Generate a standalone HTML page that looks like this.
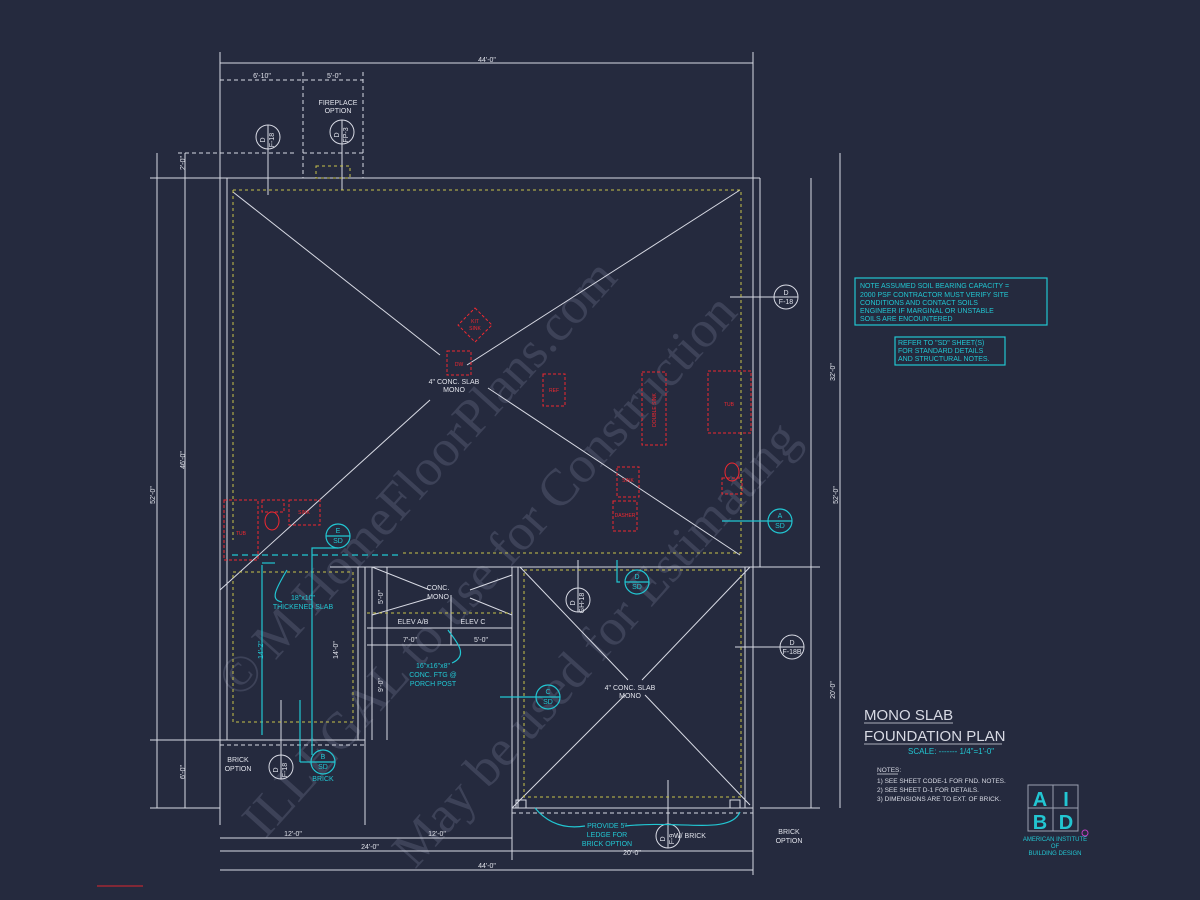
<!DOCTYPE html>
<html><head><meta charset="utf-8"><style>
html,body{margin:0;padding:0;background:#252a3e;}
svg{display:block}
text{font-family:"Liberation Sans",sans-serif;}
text.wm{font-family:"Liberation Serif",serif;}
</style></head><body>
<svg width="1200" height="900" viewBox="0 0 1200 900" xmlns="http://www.w3.org/2000/svg">
<rect width="1200" height="900" fill="#252a3e"/>
<!-- watermark -->
<g fill="#6a7088" opacity="0.35" font-size="52">
<text class="wm" transform="translate(240,700) rotate(-48)">© M HomeFloorPlans.com</text>
<text class="wm" transform="translate(265,840) rotate(-48)">ILLEGAL to use for Construction</text>
<text class="wm" transform="translate(415,870) rotate(-48)">May be used for Estimating</text>
</g>
<g stroke="#d8dae4" stroke-width="1" fill="none">
<line x1="220" y1="63" x2="753" y2="63"/>
<line x1="220" y1="52" x2="220" y2="825"/>
<line x1="753" y1="52" x2="753" y2="808"/>
<line x1="150" y1="178" x2="760" y2="178"/>
<line x1="365" y1="567" x2="820" y2="567"/>
<line x1="220" y1="740" x2="365" y2="740"/>
<line x1="365" y1="567" x2="365" y2="825"/>
<line x1="372" y1="567" x2="372" y2="740"/>
<line x1="512" y1="567" x2="512" y2="860"/>
<line x1="518" y1="567" x2="518" y2="808"/>
<line x1="745" y1="567" x2="745" y2="808"/>
<line x1="512" y1="808" x2="753" y2="808"/>
<line x1="760" y1="808" x2="820" y2="808"/>
<line x1="760" y1="178" x2="760" y2="567"/>
<line x1="227" y1="178" x2="227" y2="740"/>
<line x1="358" y1="567" x2="358" y2="740"/>
<line x1="330" y1="567" x2="365" y2="567"/>
<line x1="233" y1="192" x2="440" y2="355"/>
<line x1="488" y1="388" x2="740" y2="555"/>
<line x1="740" y1="190" x2="467" y2="365"/>
<line x1="430" y1="400" x2="220" y2="590"/>
<line x1="520" y1="567" x2="628" y2="680"/>
<line x1="645" y1="695" x2="750" y2="805"/>
<line x1="750" y1="567" x2="642" y2="680"/>
<line x1="625" y1="695" x2="512" y2="808"/>
<line x1="372" y1="567" x2="430" y2="590"/>
<line x1="470" y1="590" x2="512" y2="575"/>
<line x1="372" y1="615" x2="430" y2="598"/>
<line x1="470" y1="598" x2="512" y2="615"/>
<line x1="367" y1="628" x2="512" y2="628"/>
<line x1="367" y1="645" x2="512" y2="645"/>
<line x1="387" y1="567" x2="387" y2="740"/>
<line x1="451" y1="595" x2="451" y2="645"/>
<line x1="157" y1="153" x2="157" y2="808"/>
<line x1="185" y1="153" x2="185" y2="808"/>
<line x1="150" y1="808" x2="220" y2="808"/>
<line x1="150" y1="740" x2="220" y2="740"/>
<line x1="811" y1="178" x2="811" y2="808"/>
<line x1="840" y1="153" x2="840" y2="808"/>
<line x1="220" y1="838" x2="512" y2="838"/>
<line x1="220" y1="851" x2="753" y2="851"/>
<line x1="220" y1="870" x2="753" y2="870"/>
<line x1="753" y1="808" x2="753" y2="875"/>
<line x1="220" y1="80" x2="363" y2="80" stroke-dasharray="4 3"/>
<line x1="303" y1="72" x2="303" y2="178" stroke-dasharray="4 3"/>
<line x1="363" y1="72" x2="363" y2="178" stroke-dasharray="4 3"/>
<line x1="178" y1="153" x2="297" y2="153" stroke-dasharray="4 3"/>
<line x1="303" y1="153" x2="363" y2="153" stroke-dasharray="4 3"/>
<line x1="220" y1="745" x2="365" y2="745" stroke-dasharray="4 3"/>
<line x1="512" y1="813" x2="753" y2="813" stroke-dasharray="4 3"/>
<circle cx="268" cy="137" r="12"/><line x1="268" y1="125" x2="268" y2="195"/>
<circle cx="342" cy="132" r="12"/><line x1="342" y1="120" x2="342" y2="190"/>
<circle cx="786" cy="297" r="12"/><line x1="730" y1="297" x2="798" y2="297"/>
<circle cx="792" cy="647" r="12"/><line x1="735" y1="647" x2="804" y2="647"/>
<circle cx="578" cy="600" r="12"/><line x1="578" y1="560" x2="578" y2="612"/>
<circle cx="668" cy="836" r="12"/><line x1="668" y1="780" x2="668" y2="848"/>
<circle cx="281" cy="767" r="12"/><line x1="281" y1="700" x2="281" y2="779"/>
<rect x="516" y="800" width="10" height="8"/><rect x="730" y="800" width="10" height="8"/>
</g>
<g fill="#e0e2ea" font-size="7" text-anchor="middle">
<text x="786" y="295">D</text><text x="786" y="304">F-18</text>
<text x="792" y="645">D</text><text x="792" y="654">F-18B</text>
<text transform="translate(265,140) rotate(-90)">D</text><text transform="translate(274,140) rotate(-90)">F-18</text>
<text transform="translate(339,135) rotate(-90)">D</text><text transform="translate(348,135) rotate(-90)">FP-3</text>
<text transform="translate(575,603) rotate(-90)">D</text><text transform="translate(584,603) rotate(-90)">GH-18</text>
<text transform="translate(665,839) rotate(-90)">D</text><text transform="translate(674,839) rotate(-90)">F-9</text>
<text transform="translate(278,770) rotate(-90)">D</text><text transform="translate(287,770) rotate(-90)">F-18</text>
<text x="487" y="62">44'-0"</text><text x="487" y="868">44'-0"</text>
<text x="262" y="78">6'-10"</text><text x="334" y="78">5'-0"</text>
<text x="293" y="836">12'-0"</text><text x="437" y="836">12'-0"</text>
<text x="370" y="849">24'-0"</text><text x="632" y="855">20'-0"</text>
<text x="454" y="384">4" CONC. SLAB</text><text x="454" y="392">MONO</text>
<text x="630" y="690">4" CONC. SLAB</text><text x="630" y="698">MONO</text>
<text x="438" y="590">CONC.</text><text x="438" y="599">MONO</text>
<text x="413" y="624">ELEV A/B</text><text x="473" y="624">ELEV C</text>
<text x="410" y="642">7'-0"</text><text x="481" y="642">5'-0"</text>
<text x="690" y="838">W/ BRICK</text>
<text x="789" y="834">BRICK</text><text x="789" y="843">OPTION</text>
<text x="238" y="762">BRICK</text><text x="238" y="771">OPTION</text>
<text x="338" y="105">FIREPLACE</text><text x="338" y="113">OPTION</text>
<text transform="translate(185,163) rotate(-90)">2'-0"</text>
<text transform="translate(185,460) rotate(-90)">46'-0"</text>
<text transform="translate(155,495) rotate(-90)">52'-0"</text>
<text transform="translate(185,772) rotate(-90)">6'-0"</text>
<text transform="translate(835,372) rotate(-90)">32'-0"</text>
<text transform="translate(838,495) rotate(-90)">52'-0"</text>
<text transform="translate(835,690) rotate(-90)">20'-0"</text>
<text transform="translate(383,597) rotate(-90)">5'-0"</text>
<text transform="translate(383,685) rotate(-90)">9'-0"</text>
<text transform="translate(338,650) rotate(-90)">14'-0"</text>
</g>
<g stroke="#c8c24a" stroke-width="1" fill="none" stroke-dasharray="3 3">
<path d="M233 190 H741 V553 H400"/>
<line x1="233" y1="190" x2="233" y2="540"/>
<rect x="233" y="572" width="120" height="150"/>
<rect x="524" y="570" width="217" height="227"/>
<rect x="316" y="166" width="34" height="12"/>
<line x1="367" y1="613" x2="512" y2="613"/>
</g>
<g stroke="#f02830" stroke-width="1" fill="none" stroke-dasharray="3 2">
<rect x="463" y="313" width="24" height="24" transform="rotate(45 475 325)"/>
<rect x="447" y="351" width="24" height="24"/>
<rect x="543" y="374" width="22" height="32"/>
<rect x="642" y="372" width="24" height="73"/>
<rect x="708" y="371" width="43" height="62"/>
<rect x="617" y="467" width="22" height="30"/>
<rect x="613" y="501" width="24" height="30"/>
<rect x="224" y="500" width="34" height="60"/>
<rect x="262" y="500" width="22" height="12"/>
<rect x="289" y="500" width="31" height="25"/>
<rect x="722" y="478" width="20" height="16"/>
</g>
<g stroke="#f02830" fill="none"><ellipse cx="732" cy="472" rx="7" ry="9"/><ellipse cx="272" cy="521" rx="7" ry="9"/></g>
<g fill="#f02830" font-size="5" text-anchor="middle">
<text x="475" y="323">KIT</text><text x="475" y="330">SINK</text><text x="459" y="366">DW</text>
<text x="554" y="392">REF</text><text x="729" y="406">TUB</text><text x="628" y="482">SINK</text>
<text x="625" y="517">DASHER</text><text x="241" y="535">TUB</text><text x="304" y="514">SINK</text>
<text transform="translate(656,410) rotate(-90)">DOUBLE SINK</text>
</g>
<g stroke="#22c6d2" stroke-width="1.2" fill="none">
<line x1="232" y1="555" x2="400" y2="555" stroke-dasharray="6 4"/>
<line x1="262" y1="565" x2="262" y2="735"/>
<line x1="262" y1="563" x2="275" y2="563"/>
<circle cx="338" cy="536" r="12"/><line x1="326" y1="536" x2="350" y2="536"/><path d="M338 548 H312 V755"/>
<circle cx="323" cy="762" r="12"/><line x1="311" y1="762" x2="335" y2="762"/><line x1="311" y1="762" x2="300" y2="762"/><line x1="300" y1="700" x2="300" y2="762"/>
<circle cx="780" cy="521" r="12"/><line x1="768" y1="521" x2="792" y2="521"/><line x1="722" y1="521" x2="768" y2="521"/>
<circle cx="548" cy="697" r="12"/><line x1="536" y1="697" x2="560" y2="697"/><line x1="500" y1="697" x2="536" y2="697"/>
<circle cx="637" cy="582" r="12"/><line x1="625" y1="582" x2="649" y2="582"/><path d="M620 582 H617 V560"/>
<path d="M282 602 C 270 600 275 590 287 570"/>
<path d="M452 663 C 470 655 455 640 448 630"/>
<path d="M585 826 C 560 830 545 820 535 808"/><path d="M625 826 C 680 820 730 835 740 812"/>
<rect x="855" y="278" width="192" height="47"/>
<rect x="895" y="337" width="110" height="28"/>
</g>
<g fill="#22c6d2" font-size="7" text-anchor="middle">
<text x="338" y="533">E</text><text x="338" y="543">SD</text>
<text x="323" y="759">B</text><text x="323" y="769">SD</text>
<text x="780" y="518">A</text><text x="780" y="528">SD</text>
<text x="548" y="694">C</text><text x="548" y="704">SD</text>
<text x="637" y="579">D</text><text x="637" y="589">SD</text>
<text x="303" y="600">18"x10"</text><text x="303" y="609">THICKENED SLAB</text>
<text x="323" y="781">BRICK</text>
<text x="433" y="668">16"x16"x8"</text><text x="433" y="677">CONC. FTG @</text><text x="433" y="686">PORCH POST</text>
<text x="607" y="828">PROVIDE 5"</text><text x="607" y="837">LEDGE FOR</text><text x="607" y="846">BRICK OPTION</text>
<text transform="translate(263,650) rotate(-90)">14'-2"</text>
</g>
<g fill="#22c6d2" font-size="7">
<text x="860" y="288">NOTE ASSUMED SOIL BEARING CAPACITY =</text>
<text x="860" y="297">2000 PSF CONTRACTOR MUST VERIFY SITE</text>
<text x="860" y="305">CONDITIONS AND CONTACT SOILS</text>
<text x="860" y="313">ENGINEER IF MARGINAL OR UNSTABLE</text>
<text x="860" y="321">SOILS ARE ENCOUNTERED</text>
<text x="898" y="345">REFER TO "SD" SHEET(S)</text>
<text x="898" y="353">FOR STANDARD DETAILS</text>
<text x="898" y="361">AND STRUCTURAL NOTES.</text>
<text x="908" y="754" font-size="8">SCALE: ------- 1/4"=1'-0"</text>
</g>
<g fill="#d8dae4">
<text x="864" y="720" font-size="15">MONO SLAB</text>
<text x="864" y="741" font-size="15">FOUNDATION PLAN</text>
<text x="877" y="772" font-size="6.5">NOTES:</text>
<text x="877" y="783" font-size="6.5">1)  SEE SHEET CODE-1 FOR FND. NOTES.</text>
<text x="877" y="792" font-size="6.5">2)  SEE SHEET D-1 FOR DETAILS.</text>
<text x="877" y="801" font-size="6.5">3)  DIMENSIONS ARE TO EXT. OF BRICK.</text>
</g>
<g stroke="#d8dae4" stroke-width="0.8"><line x1="864" y1="723" x2="953" y2="723"/><line x1="864" y1="744" x2="1002" y2="744"/><line x1="877" y1="774" x2="898" y2="774"/></g>
<g>
<rect x="1028" y="785" width="50" height="46" fill="none" stroke="#9aa0b0"/>
<line x1="1053" y1="785" x2="1053" y2="831" stroke="#9aa0b0"/><line x1="1028" y1="808" x2="1078" y2="808" stroke="#9aa0b0"/>
<g fill="#22c6d2" font-weight="bold" font-size="20" text-anchor="middle">
<text x="1040" y="806">A</text><text x="1066" y="806">I</text><text x="1040" y="829">B</text><text x="1066" y="829">D</text></g>
<g fill="#22c6d2" font-size="6" text-anchor="middle">
<text x="1055" y="841">AMERICAN INSTITUTE</text><text x="1055" y="848">OF</text><text x="1055" y="855">BUILDING DESIGN</text></g>
<circle cx="1085" cy="833" r="3" fill="none" stroke="#c040c0"/>
</g>
<line x1="97" y1="886" x2="143" y2="886" stroke="#e0262e"/>
</svg>
</body></html>
